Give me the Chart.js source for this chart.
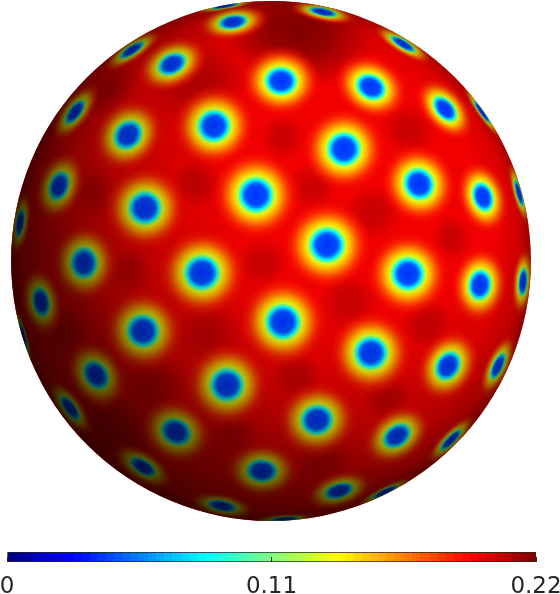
<!DOCTYPE html>
<html>
<head>
<meta charset="utf-8">
<script src="https://cdn.jsdelivr.net/npm/chart.js@4"></script>
<style>
	html, body { margin: 0; padding: 0; background: #fff; overflow: hidden; }
	canvas { display: block; }
</style>
</head>
<body>
<canvas id="sphere" width="560" height="530"></canvas>
<canvas id="colorbar" width="560" height="64"></canvas>
<script>
// axis units: the sphere has radius 260 around (0,0)
const spotX = [-38, 52, 132, -139, -99, 10, 100, 174, 211, -196, -143, -57, 73, 148, 212, 248, -212, -251, -126, -15, 56, 137, 209, 252, -187, -69, -230, -248, -128, 12, 100, 177, 227, -175, -44, 46, 126, 180, -201, -95, -128, -9, 68, -49, 114, 14, -46];
const spotY = [239, 249, 217, 211, 197, 180, 174, 152, 149, 149, 126, 135, 112, 77, 64, 68, 75, 38, 53, 66, 16, -13, -24, -21, -2, -12, -41, -74, -70, -61, -92, -105, -105, -114, -124, -159, -175, -179, -147, -171, -206, -210, -230, -245, -231, -258, 255];

// colour value by distance from a spot's centre
const spotRadius = [0, 10, 12.5, 15, 17, 19, 23, 29, 36, 46];
const spotValue = [0.038, 0.044, 0.058, 0.082, 0.105, 0.13, 0.15, 0.17, 0.183, 0.195];

// darker maxima between the spots
const patchX = [29, -71, -156, 102, 181, 12, 137, 42, 79, 156, 116, 52, 26, -61, -114, -38, -74, -176, -161, -8, -141, -205];
const patchY = [224, 176, -169, 48, 24, 124, 131, 74, -42, -62, -136, -199, -116, -71, -122, -172, 78, 68, 171, -1, -9, -70];
const patchSpread = [90, 55, 70, 30, 26, 24, 34, 26, 32, 30, 30, 36, 26, 34, 34, 30, 26, 32, 44, 26, 26, 36];
const patchValue = [0.222, 0.207, 0.207, 0.205, 0.205, 0.205, 0.205, 0.205, 0.205, 0.205, 0.205, 0.205, 0.205, 0.205, 0.205, 0.205, 0.205, 0.205, 0.207, 0.205, 0.205, 0.205];

const backgroundValue = 0.195;
const barRange = [0, 0.22];
const barTicks = [0, 0.11, 0.22];

const R = 260;

function jet(value, alpha = 1) {
	const v = Math.min(1, Math.max(0, value / barRange[1]));
	const ch = (c) => Math.round(255 * Math.min(1, Math.max(0, 1.5 - Math.abs(4 * v - c))));
	return `rgba(${ch(3)}, ${ch(2)}, ${ch(1)}, ${alpha})`;
}

function blank(w, h) {
	const c = document.createElement("canvas");
	c.width = Math.max(1, Math.ceil(w));
	c.height = Math.max(1, Math.ceil(h));
	return c;
}

// soft blob squeezed towards the limb; local x is the radial direction
function foreshorten(x, y) {
	const q = Math.min(0.995, Math.hypot(x, y) / R);
	return {
		along: Math.min(1, 1.1 * Math.sqrt(1 - q * q)),
		across: 1 - 0.2 * q * q,
	};
}

function blob(x, y, size, stops) {
	const f = foreshorten(x, y);
	const c = blank(2 * size * f.along, 2 * size * f.across);
	const g = c.getContext("2d");
	g.translate(c.width / 2, c.height / 2);
	g.scale(f.along, f.across);
	const grad = g.createRadialGradient(0, 0, 0, 0, 0, size);
	stops.forEach(([at, color]) => grad.addColorStop(at, color));
	g.fillStyle = grad;
	g.beginPath();
	g.arc(0, 0, size, 0, Math.PI * 2);
	g.fill();
	return c;
}

function rotationOf(x, y) {
	return (Math.atan2(-y, x) * 180) / Math.PI;
}

const spotSize = spotRadius[spotRadius.length - 1];
const lastSpot = spotRadius.length - 1;
// outer stops fade out so the darker patches show through
const spotStops = spotRadius.map((r, i) => [r / spotSize, jet(spotValue[i], i === lastSpot ? 0 : i === lastSpot - 1 ? 0.6 : 1)]);
const spotImages = spotX.map((x, i) => blob(x, spotY[i], spotSize, spotStops));

const patchImages = patchX.map((x, i) => blob(x, patchY[i], patchSpread[i], [
	[0, jet(patchValue[i], 0.95)],
	[0.4, jet(patchValue[i], 0.75)],
	[1, jet(patchValue[i], 0)],
]));

function shade(size, stops) {
	const c = blank(2 * size, 2 * size);
	const g = c.getContext("2d");
	const grad = g.createRadialGradient(size, size, 0, size, size, size);
	stops.forEach(([at, a]) => grad.addColorStop(at, `rgba(0, 0, 0, ${a})`));
	g.fillStyle = grad;
	g.fillRect(0, 0, 2 * size, 2 * size);
	return c;
}

function disc(size, color) {
	const c = blank(2 * size, 2 * size);
	const g = c.getContext("2d");
	g.fillStyle = color;
	g.fillRect(0, 0, 2 * size, 2 * size);
	return c;
}

const clipToSphere = {
	id: "clipToSphere",
	beforeDatasetsDraw(chart) {
		const { ctx, scales } = chart;
		const cx = scales.x.getPixelForValue(0);
		const cy = scales.y.getPixelForValue(0);
		ctx.save();
		ctx.beginPath();
		ctx.arc(cx, cy, scales.x.getPixelForValue(R) - cx, 0, Math.PI * 2);
		ctx.clip();
	},
	afterDatasetsDraw(chart) {
		chart.ctx.restore();
	},
};

// images carry their own size; a big pointRadius would shrink the chart area
const imagePoint = { pointRadius: 0.1, pointHoverRadius: 0, pointBorderWidth: 0 };

new Chart(document.getElementById("sphere"), {
	type: "scatter",
	plugins: [clipToSphere],
	data: {
		datasets: [
			{
				...imagePoint,
				order: 5,
				data: [{ x: 0, y: 0 }],
				pointStyle: disc(R + 1, jet(backgroundValue)),
			},
			{
				...imagePoint,
				order: 4,
				data: patchX.map((x, i) => ({ x, y: patchY[i] })),
				pointStyle: patchImages,
				rotation: patchX.map((x, i) => rotationOf(x, patchY[i])),
			},
			{
				...imagePoint,
				order: 3,
				data: spotX.map((x, i) => ({ x, y: spotY[i] })),
				pointStyle: spotImages,
				rotation: spotX.map((x, i) => rotationOf(x, spotY[i])),
			},
			{
				// light falls from the upper right
				...imagePoint,
				order: 2,
				data: [{ x: 99, y: 91 }],
				pointStyle: shade(400, [[0, 0], [0.35, 0.01], [0.5, 0.12], [0.64, 0.27], [0.75, 0.44], [0.8, 0.54], [0.9, 0.64], [1, 0.7]]),
			},
			{
				...imagePoint,
				order: 1,
				data: [{ x: 0, y: 0 }],
				pointStyle: shade(262, [[0, 0], [0.86, 0], [0.95, 0.1], [1, 0.35]]),
			},
		],
	},
	options: {
		responsive: false,
		animation: false,
		layout: { padding: 0 },
		plugins: { legend: { display: false }, tooltip: { enabled: false } },
		scales: {
			x: { type: "linear", display: false, min: -271, max: 289 },
			y: { type: "linear", display: false, min: -269, max: 261 },
		},
	},
});

function barFill(context) {
	const area = context.chart.chartArea;
	if (!area) return "#000";
	const grad = context.chart.ctx.createLinearGradient(area.left, 0, area.right, 0);
	const levels = 64;
	for (let i = 0; i < levels; i++) {
		const color = jet((barRange[1] * (i + 0.5)) / levels);
		grad.addColorStop(i / levels, color);
		grad.addColorStop((i + 1) / levels, color);
	}
	return grad;
}

new Chart(document.getElementById("colorbar"), {
	type: "bar",
	data: {
		labels: [""],
		datasets: [
			{
				data: [barRange],
				backgroundColor: barFill,
				borderColor: "#262626",
				borderWidth: 1,
				borderSkipped: false,
				barPercentage: 1,
				categoryPercentage: 1,
			},
		],
	},
	options: {
		indexAxis: "y",
		responsive: false,
		animation: false,
		layout: { padding: { left: 7, right: 24, top: 22, bottom: 0 } },
		plugins: { legend: { display: false }, tooltip: { enabled: false } },
		scales: {
			y: { display: false },
			x: {
				type: "linear",
				min: barRange[0],
				max: barRange[1],
				afterBuildTicks: (scale) => {
					scale.ticks = barTicks.map((value) => ({ value }));
				},
				afterFit: (scale) => {
					scale.paddingLeft = 0;
					scale.paddingRight = 0;
					scale.height = 32;
				},
				border: { display: false },
				grid: { drawOnChartArea: false, tickLength: -5, tickColor: "#262626", z: 1 },
				ticks: {
					autoSkip: false,
					maxRotation: 0,
					padding: 16,
					color: "#262626",
					font: { family: "DejaVu Sans", size: 23 },
					callback: (value) => String(value),
				},
			},
		},
	},
});
</script>
</body>
</html>
